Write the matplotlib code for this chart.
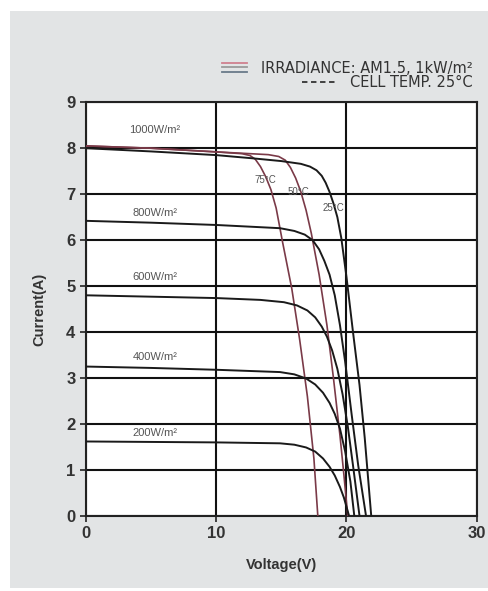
import matplotlib
matplotlib.use("Agg")
import matplotlib.pyplot as plt
from matplotlib.patches import Rectangle
from matplotlib.lines import Line2D

plt.rcParams["font.family"] = ["Liberation Sans", "DejaVu Sans"]

# I-V curves (voltage V, current A)
v_1000 = [0, 5, 10, 12.8, 15, 16.5, 17.2, 17.7, 18.1, 18.4, 18.7, 19.0, 19.3, 19.6, 20.0, 20.5, 21.0, 21.4, 21.9]
i_1000 = [8.0, 7.93, 7.85, 7.78, 7.72, 7.66, 7.6, 7.52, 7.4, 7.25, 7.05, 6.8, 6.5, 6.05, 5.2, 4.0, 2.85, 1.7, 0]

v_800 = [0, 5, 10, 14.9, 16.0, 16.8, 17.4, 17.9, 18.3, 18.7, 19.1, 19.5, 19.9, 20.4, 20.9, 21.5]
i_800 = [6.42, 6.38, 6.33, 6.26, 6.2, 6.12, 6.0, 5.8, 5.55, 5.25, 4.8, 4.15, 3.35, 2.2, 1.1, 0]

v_600 = [0, 5, 10, 13.4, 15.2, 16.2, 17.0, 17.6, 18.1, 18.5, 18.9, 19.3, 19.7, 20.1, 20.5, 21.0]
i_600 = [4.8, 4.77, 4.74, 4.7, 4.65, 4.58, 4.47, 4.32, 4.12, 3.9, 3.6, 3.2, 2.65, 1.95, 1.1, 0]

v_400 = [0, 5, 10, 14.9, 16.0, 16.9, 17.6, 18.2, 18.7, 19.1, 19.5, 19.9, 20.3, 20.6]
i_400 = [3.25, 3.22, 3.18, 3.13, 3.08, 2.99, 2.86, 2.68, 2.46, 2.22, 1.9, 1.4, 0.75, 0]

v_200 = [0, 5, 10, 14.9, 16.0, 16.9, 17.6, 18.2, 18.7, 19.1, 19.5, 19.8, 20.2]
i_200 = [1.62, 1.61, 1.6, 1.58, 1.55, 1.49, 1.4, 1.25, 1.07, 0.88, 0.63, 0.4, 0]

# 1000 W/m2 at higher cell temperatures
v_75c = [0, 5, 10, 12.0, 12.6, 13.0, 13.4, 13.8, 14.2, 14.6, 15.1, 15.8, 16.4, 17.0, 17.5, 17.8]
i_75c = [8.05, 8.0, 7.92, 7.88, 7.84, 7.76, 7.6, 7.38, 7.1, 6.7, 5.95, 4.95, 3.85, 2.6, 1.25, 0]

v_50c = [0, 5, 10, 14.0, 14.8, 15.3, 15.7, 16.1, 16.5, 16.9, 17.3, 17.9, 18.5, 19.0, 19.5, 19.8, 20.1]
i_50c = [8.05, 8.0, 7.92, 7.86, 7.82, 7.74, 7.58, 7.35, 7.05, 6.65, 6.15, 5.25, 4.15, 3.0, 1.75, 0.9, 0]

irr_labels = ["1000W/m²", "800W/m²", "600W/m²", "400W/m²", "200W/m²"]
irr_label_y = [8.4, 6.6, 5.2, 3.45, 1.8]
temp_labels = ["75°C", "50°C", "25°C"]
temp_label_xy = [(13.8, 7.3), (16.3, 7.05), (19.0, 6.7)]

x_ticks = [0, 10, 20, 30]
y_ticks = list(range(10))

fig = plt.figure(figsize=(4.88, 5.91), dpi=100, facecolor="white")
fig.add_artist(Rectangle((0.0205, 0.005), 0.98, 0.976, transform=fig.transFigure,
                         facecolor="#e2e4e5", edgecolor="none", zorder=0))

ax = fig.add_axes([0.176, 0.127, 0.801, 0.700])
ax.set_facecolor("white")

hot = "#7a3a48"
ax.plot(v_75c, i_75c, color=hot, lw=1.2, zorder=3)
ax.plot(v_50c, i_50c, color=hot, lw=1.2, zorder=3)
for vv, ii in [(v_1000, i_1000), (v_800, i_800), (v_600, i_600), (v_400, i_400), (v_200, i_200)]:
    ax.plot(vv, ii, color="#1a1a1a", lw=1.4, zorder=4)

for lab, y in zip(irr_labels, irr_label_y):
    ax.text(5.3, y, lab, fontsize=8, color="#555555", ha="center", va="center", zorder=5)
for lab, (x, y) in zip(temp_labels, temp_label_xy):
    ax.text(x, y, lab, fontsize=7, color="#555555", ha="center", va="center", zorder=5)

ax.set_xlim(0, 30)
ax.set_ylim(0, 9)
ax.set_xticks(x_ticks)
ax.set_yticks(y_ticks)
ax.grid(True, color="#111111", lw=1.5, zorder=1)
ax.set_axisbelow(True)
for s in ax.spines.values():
    s.set_color("#222222")
    s.set_linewidth(1.5)
ax.tick_params(length=4, width=1.2, colors="#222222", labelsize=12)
for lbl in ax.get_xticklabels() + ax.get_yticklabels():
    lbl.set_fontweight("bold")
    lbl.set_color("#333333")

ax.set_xlabel("Voltage(V)", fontsize=10.5, fontweight="bold", color="#333333", labelpad=12)
ax.set_ylabel("Current(A)", fontsize=10.5, fontweight="bold", color="#333333", labelpad=14)

# header legend
ax.text(0.99, 1.082, "IRRADIANCE: AM1.5, 1kW/m²", transform=ax.transAxes,
        ha="right", va="center", fontsize=10.5, color="#333333", family="DejaVu Sans")
ax.text(0.99, 1.047, "CELL TEMP. 25°C", transform=ax.transAxes,
        ha="right", va="center", fontsize=10.5, color="#333333", family="DejaVu Sans")
for y, c in [(1.096, "#d0808e"), (1.084, "#9a9a9a"), (1.072, "#6a7a8a")]:
    ax.add_line(Line2D([0.348, 0.412], [y, y], transform=ax.transAxes, color=c,
                       lw=1.3, clip_on=False))
ax.add_line(Line2D([0.552, 0.637], [1.048, 1.048], transform=ax.transAxes, color="#333333",
                   lw=1.3, ls=(0, (3, 2)), clip_on=False))

fig.savefig("out.png", dpi=100, facecolor="white")
